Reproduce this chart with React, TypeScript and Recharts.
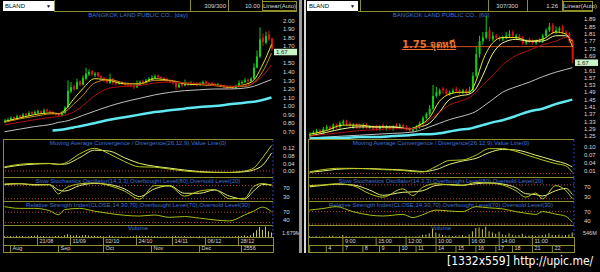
import { Bar, ComposedChart, Line, ReferenceLine, XAxis, YAxis } from "recharts";

const FONT = '"Liberation Sans", Arial, sans-serif';
const OLIVE = "#8e8e2a";
const BLUE_TXT = "#3f72d8";
const TICK = "#d8d8d8";

// ---------- left: BLAND daily ----------
const leftOpen = [0.82,0.83,0.84,0.87,0.85,0.89,0.87,0.91,0.89,0.93,0.91,0.92,0.94,0.92,0.96,0.94,0.93,0.92,0.91,0.89,0.92,0.99,1.17,1.23,1.20,1.29,1.25,1.32,1.37,1.41,1.36,1.39,1.35,1.33,1.31,1.27,1.32,1.28,1.26,1.28,1.26,1.25,1.24,1.24,1.22,1.25,1.29,1.27,1.30,1.31,1.33,1.36,1.34,1.33,1.31,1.30,1.28,1.27,1.22,1.26,1.24,1.27,1.25,1.27,1.26,1.25,1.26,1.29,1.27,1.27,1.25,1.24,1.25,1.24,1.23,1.23,1.22,1.21,1.23,1.27,1.28,1.31,1.29,1.32,1.45,1.58,1.80,1.74,1.84,1.79];
const leftHigh = [0.85,0.86,0.88,0.88,0.90,0.90,0.92,0.92,0.94,0.94,0.95,0.96,0.95,0.97,0.97,0.95,0.94,0.93,0.92,0.94,1.00,1.30,1.28,1.25,1.32,1.30,1.36,1.45,1.43,1.42,1.40,1.40,1.36,1.34,1.32,1.38,1.33,1.29,1.29,1.29,1.27,1.27,1.26,1.25,1.30,1.30,1.31,1.32,1.34,1.36,1.37,1.37,1.35,1.34,1.33,1.31,1.29,1.28,1.27,1.27,1.31,1.28,1.29,1.28,1.28,1.28,1.30,1.30,1.28,1.28,1.27,1.27,1.26,1.25,1.24,1.24,1.23,1.25,1.30,1.30,1.33,1.32,1.34,1.50,1.65,1.92,1.85,1.87,1.88,1.80];
const leftLow = [0.80,0.82,0.83,0.84,0.84,0.86,0.86,0.88,0.88,0.90,0.90,0.91,0.91,0.91,0.93,0.92,0.90,0.89,0.88,0.88,0.91,0.98,1.15,1.18,1.19,1.23,1.24,1.30,1.35,1.35,1.34,1.33,1.31,1.28,1.26,1.26,1.25,1.24,1.25,1.25,1.23,1.23,1.22,1.20,1.21,1.24,1.25,1.26,1.29,1.30,1.32,1.32,1.31,1.29,1.28,1.27,1.25,1.19,1.21,1.22,1.23,1.23,1.24,1.24,1.23,1.24,1.25,1.26,1.25,1.24,1.23,1.23,1.22,1.21,1.20,1.21,1.20,1.20,1.22,1.25,1.27,1.27,1.28,1.31,1.44,1.56,1.70,1.72,1.76,1.65];
const leftClose = [0.83,0.84,0.86,0.85,0.88,0.87,0.90,0.89,0.92,0.91,0.93,0.94,0.92,0.95,0.94,0.93,0.91,0.90,0.89,0.92,0.98,1.18,1.22,1.20,1.28,1.25,1.33,1.38,1.40,1.37,1.38,1.35,1.33,1.30,1.28,1.32,1.27,1.26,1.27,1.26,1.25,1.24,1.23,1.22,1.25,1.28,1.27,1.30,1.32,1.33,1.35,1.34,1.33,1.31,1.30,1.28,1.27,1.22,1.25,1.24,1.26,1.25,1.27,1.26,1.25,1.26,1.28,1.27,1.26,1.25,1.24,1.25,1.24,1.23,1.22,1.22,1.21,1.23,1.27,1.28,1.30,1.29,1.32,1.45,1.58,1.78,1.75,1.82,1.78,1.67];
const leftVolume = [0.4,0.3,0.5,0.3,0.6,0.4,0.5,0.3,0.4,0.5,0.6,0.8,0.4,0.5,0.3,0.4,0.3,0.5,0.6,0.4,0.9,1.3,1.0,0.6,0.9,0.5,0.8,1.0,0.7,0.5,0.6,0.4,0.5,0.4,0.3,0.7,0.4,0.3,0.3,0.4,0.3,0.3,0.4,0.5,0.7,0.6,0.4,0.5,0.6,0.4,0.5,0.4,0.3,0.3,0.4,0.3,0.4,0.6,0.4,0.3,0.5,0.3,0.4,0.3,0.3,0.4,0.3,0.3,0.3,0.2,0.3,0.3,0.2,0.3,0.3,0.2,0.3,0.4,0.6,0.5,0.7,0.5,0.9,2.0,3.2,4.8,3.5,5.0,2.8,2.2];
const leftMaIdx = [0,5,10,16,18,20,23,26,30,35,40,45,50,55,60,65,70,75,80,83,86,89];
const leftMaFast = [0.82,0.86,0.90,0.92,0.91,0.95,1.08,1.20,1.32,1.30,1.26,1.26,1.32,1.30,1.26,1.25,1.24,1.22,1.25,1.30,1.48,1.72];
const leftMaMid = [0.81,0.85,0.88,0.91,0.91,0.93,1.02,1.12,1.27,1.31,1.27,1.26,1.30,1.30,1.27,1.26,1.25,1.23,1.23,1.27,1.40,1.62];
const leftMaSlow = [0.78,0.81,0.84,0.87,0.88,0.89,0.93,1.00,1.12,1.21,1.23,1.24,1.27,1.28,1.27,1.26,1.24,1.23,1.24,1.27,1.35,1.48];
const leftMaLong = [0.70,0.73,0.76,0.79,0.81,0.82,0.85,0.89,0.94,1.00,1.05,1.09,1.13,1.16,1.18,1.19,1.20,1.20,1.21,1.23,1.27,1.31];
const leftMa200 = [null,null,null,0.715,0.72,0.73,0.75,0.77,0.80,0.84,0.87,0.90,0.93,0.95,0.97,0.99,1.00,1.02,1.04,1.05,1.07,1.10];
const leftIndIdx = [0,5,10,15,18,20,25,30,35,40,45,50,55,60,65,70,75,80,83,86,89];
const leftMacd = [0.022,0.035,0.04,0.04,0.033,0.04,0.09,0.12,0.09,0.05,0.022,0.02,0.01,0.0,-0.006,-0.008,-0.008,0.0,0.015,0.07,0.135];
const leftMacdSig = [0.018,0.03,0.036,0.039,0.036,0.036,0.07,0.11,0.105,0.07,0.04,0.025,0.015,0.005,-0.003,-0.007,-0.008,-0.004,0.005,0.03,0.095];
const leftStochK = [88,90,82,85,42,65,88,92,80,55,18,80,78,32,55,62,20,22,75,90,80];
const leftStochD = [85,88,85,84,60,55,80,90,85,65,30,65,80,45,45,60,32,18,55,85,84];
const leftRsi = [92,85,85,76,60,80,85,74,65,58,55,59,50,53,47,40,36,59,74,90,72];
const leftPriceTicks = [0.7,0.8,0.9,1.0,1.1,1.2,1.3,1.4,1.5,1.7,1.8,1.9,2.0];
const leftMacdTicks = [0, 0.04, 0.08, 0.12];
const leftDateIdx = [11,22,33,44,56,67,78];
const leftDateLabels = ["21/08","11/09","02/10","24/10","14/11","06/12","28/12"];
const leftMonthIdx = [2,18,33,49,65,79];
const leftMonthLabels = ["Aug","Sep","Oct","Nov","Dec","2556"];

// ---------- right: BLAND 60 min ----------
const rightOpen = [1.25,1.26,1.27,1.28,1.27,1.29,1.30,1.29,1.31,1.30,1.32,1.33,1.32,1.30,1.31,1.31,1.30,1.31,1.30,1.30,1.30,1.29,1.31,1.29,1.30,1.29,1.31,1.30,1.31,1.30,1.29,1.28,1.29,1.30,1.32,1.35,1.37,1.40,1.47,1.48,1.51,1.50,1.48,1.49,1.51,1.50,1.49,1.50,1.49,1.50,1.58,1.70,1.77,1.79,1.83,1.78,1.80,1.79,1.78,1.79,1.80,1.82,1.79,1.80,1.79,1.76,1.78,1.77,1.76,1.78,1.77,1.80,1.83,1.86,1.82,1.83,1.85,1.82,1.81,1.77];
const rightHigh = [1.27,1.28,1.29,1.29,1.30,1.31,1.31,1.32,1.32,1.33,1.34,1.34,1.33,1.32,1.32,1.32,1.32,1.32,1.31,1.31,1.31,1.31,1.32,1.31,1.31,1.31,1.32,1.32,1.32,1.31,1.30,1.30,1.31,1.33,1.36,1.38,1.42,1.53,1.52,1.51,1.52,1.51,1.50,1.51,1.52,1.51,1.51,1.51,1.52,1.60,1.74,1.80,1.82,1.91,1.85,1.82,1.81,1.80,1.80,1.82,1.83,1.83,1.81,1.81,1.80,1.78,1.79,1.78,1.78,1.79,1.81,1.84,1.87,1.87,1.85,1.85,1.86,1.83,1.82,1.78];
const rightLow = [1.24,1.25,1.26,1.26,1.26,1.28,1.28,1.28,1.29,1.29,1.31,1.31,1.30,1.29,1.29,1.29,1.29,1.29,1.29,1.28,1.28,1.28,1.29,1.28,1.28,1.28,1.29,1.29,1.29,1.28,1.27,1.27,1.28,1.29,1.31,1.34,1.36,1.39,1.46,1.47,1.48,1.47,1.47,1.48,1.49,1.48,1.48,1.48,1.48,1.49,1.57,1.68,1.75,1.78,1.77,1.77,1.78,1.77,1.77,1.78,1.79,1.79,1.78,1.78,1.75,1.75,1.76,1.75,1.75,1.76,1.76,1.79,1.82,1.81,1.81,1.82,1.81,1.80,1.76,1.65];
const rightClose = [1.26,1.27,1.28,1.27,1.29,1.30,1.29,1.31,1.30,1.32,1.33,1.32,1.31,1.31,1.30,1.30,1.31,1.30,1.30,1.29,1.29,1.30,1.30,1.30,1.29,1.30,1.30,1.31,1.30,1.29,1.28,1.29,1.30,1.32,1.35,1.37,1.40,1.47,1.49,1.50,1.50,1.48,1.49,1.50,1.50,1.49,1.50,1.49,1.50,1.58,1.70,1.77,1.79,1.82,1.78,1.80,1.79,1.78,1.79,1.80,1.81,1.80,1.80,1.79,1.76,1.77,1.77,1.76,1.77,1.77,1.80,1.83,1.85,1.82,1.83,1.84,1.82,1.81,1.77,1.67];
const rightVolume = [120,80,150,60,100,90,200,250,80,100,300,150,90,80,120,60,70,100,80,60,90,70,100,60,80,90,120,100,80,150,100,80,120,200,350,400,600,1300,700,500,300,200,250,150,200,250,300,200,400,900,1400,1500,1200,1600,900,700,500,800,400,300,600,350,250,300,500,200,250,300,200,250,300,400,600,350,300,400,250,300,400,700];
const rightMaIdx = [0,5,10,15,20,25,30,33,36,39,42,45,48,50,52,55,58,62,66,70,74,77,79];
const rightMaFast = [1.26,1.28,1.31,1.31,1.30,1.30,1.29,1.31,1.35,1.44,1.48,1.49,1.49,1.55,1.66,1.76,1.79,1.79,1.77,1.78,1.82,1.81,1.74];
const rightMaMid = [1.25,1.27,1.29,1.30,1.30,1.30,1.29,1.30,1.32,1.38,1.45,1.47,1.48,1.51,1.58,1.70,1.76,1.78,1.77,1.77,1.80,1.80,1.77];
const rightMaSlow = [1.25,1.26,1.27,1.28,1.285,1.29,1.29,1.30,1.34,1.38,1.42,1.44,1.46,1.49,1.53,1.58,1.64,1.69,1.72,1.75,1.77,1.79,1.78];
const rightMaLong = [1.24,1.245,1.25,1.255,1.26,1.265,1.27,1.28,1.30,1.32,1.34,1.355,1.37,1.385,1.41,1.45,1.49,1.52,1.545,1.575,1.60,1.615,1.625];
const rightMa200 = [1.235,1.24,1.24,1.245,1.245,1.25,1.255,1.26,1.26,1.265,1.275,1.285,1.29,1.30,1.31,1.325,1.337,1.36,1.385,1.40,1.425,1.44,1.45];
const rightIndIdx = [0,4,8,13,18,22,28,31,34,38,42,46,50,54,58,62,65,68,70,74,77,79];
const rightMacd = [0.007,0.015,0.02,0.02,0.018,0.015,0.012,0.008,0.006,0.027,0.05,0.052,0.07,0.095,0.095,0.085,0.072,0.06,0.052,0.038,0.03,0.005];
const rightMacdSig = [0.005,0.01,0.016,0.019,0.019,0.017,0.014,0.011,0.008,0.015,0.035,0.048,0.058,0.08,0.092,0.09,0.082,0.07,0.063,0.048,0.038,0.025];
const rightStochK = [77,80,85,77,42,27,63,34,70,85,80,77,91,88,80,55,27,45,20,77,56,20];
const rightStochD = [72,78,83,80,58,35,48,50,55,78,82,79,85,89,84,68,42,38,32,55,65,38];
const rightRsi = [75,80,86,70,59,56,61,51,60,75,72,70,86,82,79,70,65,61,70,62,55,36];
const rightPriceTicks = [1.25,1.29,1.33,1.37,1.41,1.45,1.49,1.53,1.57,1.61,1.69,1.73,1.77,1.81,1.85,1.89];
const rightMacdTicks = [0.01, 0.04, 0.07, 0.10];
const rightTimeIdx = [10,20,29,38,48,57,67];
const rightTimeLabels = ["9:00","15:00","12:00","10:00","16:00","14:00","11:00"];
const rightDayIdx = [0,5,10,16,21,27,32,38,44,50,56,61,67,73];
const rightDayLabels = ["","4","7","8","9","10","11","14","15","16","17","18","21","22"];
const rightNote = "1.75 จุดหนี";
const rightNoteLevel = 1.74;

const lastPrice = 1.67;

function buildRows(o: number[], h: number[], l: number[], c: number[], v: number[], maIdx: number[], mas: (number | null)[][]) {
  return c.map((_, i) => {
    const row: any = { i, o: o[i], h: h[i], l: l[i], c: c[i], v: v[i] };
    const k = maIdx.indexOf(i);
    mas.forEach((m, j) => (row["m" + j] = k >= 0 ? m[k] : null));
    return row;
  });
}

function buildInd(idx: number[], macd: number[], sig: number[], k: number[], d: number[], rsi: number[]) {
  return idx.map((x, n) => ({ x, macd: macd[n], sig: sig[n], k: k[n], d: d[n], rsi: rsi[n] }));
}

const Candle = (p: any) => {
  const { x, y, width, height, payload } = p;
  const top = Math.min(y, y + height);
  const hh = Math.abs(height);
  const { o, h, l, c } = payload;
  const ppu = hh / (h - l);
  const up = c >= o;
  const col = up ? "#10d010" : "#e01010";
  const bTop = top + (h - Math.max(o, c)) * ppu;
  const bBot = top + (h - Math.min(o, c)) * ppu;
  const cx = x + width / 2;
  return (
    <g>
      <line x1={cx} x2={cx} y1={top} y2={top + hh} stroke={col} strokeWidth={1} />
      <rect x={x} y={bTop} width={width} height={Math.max(1, bBot - bTop)} fill={col} />
    </g>
  );
};

const rowTick = (idx: number[], labels: string[], rowH: number) => (p: any) => {
  const k = idx.indexOf(p.payload.value);
  if (k < 0) return <g />;
  return (
    <g>
      <line x1={p.x} x2={p.x} y1={p.y} y2={p.y + rowH} stroke={OLIVE} />
      <text x={p.x + 2} y={p.y + rowH - 2} fill={TICK} fontSize={5.5} fontFamily={FONT}>{labels[k]}</text>
    </g>
  );
};

const MA_STYLE = [
  { c: "#e8e820", w: 1 },
  { c: "#c88a10", w: 1 },
  { c: "#b01010", w: 1 },
  { c: "#c0c0c0", w: 1 },
  { c: "#60e8f0", w: 2.5 },
];

function Panel(cfg: any) {
  const { left, width, plotL, plotR, rows, ind, n } = cfg;
  const axisW = width - plotR;
  const m = { top: 0, right: 0, bottom: 0, left: plotL };
  const yTick = { fill: TICK, fontSize: 6, fontFamily: FONT };
  const dashAxis = { stroke: "#2a3cc0", strokeDasharray: "2 2" };
  const xNum = <XAxis type="number" dataKey="x" domain={[-0.5, n - 0.5]} hide />;
  const hline = (y: number) => (
    <div style={{ position: "absolute", left: plotL, top: y, width: plotR - plotL, height: 1, background: OLIVE }} />
  );
  const title = (y: number, t: string) => (
    <div style={{ position: "absolute", left: plotL, width: plotR - plotL, top: y, textAlign: "center", color: BLUE_TXT, fontSize: 6, lineHeight: "7px", whiteSpace: "nowrap" }}>{t}</div>
  );
  const refDot = (y: number) => <ReferenceLine y={y} stroke="#c04040" strokeDasharray="1 2" />;
  const vline = (x: number, top: number, h: number) => (
    <div style={{ position: "absolute", left: x, top, width: 1, height: h, background: OLIVE }} />
  );

  return (
    <div style={{ position: "absolute", left, top: 0, width, height: 253, fontFamily: FONT }}>
      {/* header */}
      <div style={{ position: "absolute", left: cfg.boxL, top: 1, width: cfg.boxR - cfg.boxL, height: 10, background: "#fff", color: "#000", fontSize: 6, lineHeight: "10px", paddingLeft: 2, boxSizing: "border-box" }}>
        BLAND<span style={{ position: "absolute", right: 3, fontSize: 5 }}>▼</span>
      </div>
      <div style={{ position: "absolute", left: cfg.boxR, top: 11, width: cfg.linR - cfg.boxR, height: 1, background: OLIVE }} />
      {cfg.seps.map((x: number) => vline(x, 0, 11))}
      <div style={{ position: "absolute", left: cfg.countR - 40, width: 40, top: 2, textAlign: "right", color: TICK, fontSize: 6, lineHeight: "8px" }}>{cfg.count}</div>
      <div style={{ position: "absolute", left: cfg.valR - 30, width: 30, top: 2, textAlign: "right", color: TICK, fontSize: 6, lineHeight: "8px" }}>{cfg.val}</div>
      <div style={{ position: "absolute", left: cfg.linL, top: 1, width: cfg.linR - cfg.linL, height: 10, border: `1px solid ${OLIVE}`, boxSizing: "border-box", color: TICK, fontSize: 6, lineHeight: "8px", textAlign: "center" }}>Linear(Auto)</div>

      {title(12, cfg.title)}

      {/* price */}
      <div style={{ position: "absolute", left: 0, top: 12 }}>
        <ComposedChart width={width} height={127} data={rows} margin={m}>
          <XAxis dataKey="i" type="category" hide />
          <YAxis orientation="right" width={axisW} type="number" domain={cfg.priceDomain} allowDataOverflow ticks={cfg.priceTicks} interval={0} tick={yTick} tickLine={false} axisLine={false} tickMargin={4} tickFormatter={(v: number) => v.toFixed(2)} />
          {cfg.note && <ReferenceLine segment={[{ x: cfg.noteFrom, y: cfg.noteLevel }, { x: n - 1, y: cfg.noteLevel }]} stroke="#d05020" strokeWidth={1} />}
          <Bar dataKey={(d: any) => [d.l, d.h]} shape={Candle} barSize={2} isAnimationActive={false} />
          {cfg.maStyle.map((s: any, j: number) => (
            <Line key={j} dataKey={"m" + j} type="monotone" stroke={s.c} strokeWidth={s.w} dot={false} connectNulls isAnimationActive={false} />
          ))}
          <ReferenceLine y={lastPrice} stroke="none" label={(p: any) => (
            <g>
              <rect x={p.viewBox.x + p.viewBox.width + 1} y={p.viewBox.y} width={23} height={6.5} fill="#c8f4c8" />
              <text x={p.viewBox.x + p.viewBox.width + 3} y={p.viewBox.y + 5.5} fontSize={6} fill="#222" fontFamily={FONT}>{lastPrice.toFixed(2)}</text>
            </g>
          )} />
        </ComposedChart>
      </div>
      {cfg.note && (
        <div style={{ position: "absolute", left: cfg.noteX, top: cfg.noteY, color: "#e8702a", fontSize: 10, fontWeight: "bold", textDecoration: "underline", whiteSpace: "nowrap", fontFamily: '"DejaVu Sans", "Noto Sans", sans-serif' }}>{cfg.note}</div>
      )}

      {hline(139)}
      {title(140, "Moving Average Convergence / Divergence(26,12,9),Value Line(0)")}
      <div style={{ position: "absolute", left: 0, top: 140 }}>
        <ComposedChart width={width} height={37} data={ind} margin={m}>
          {xNum}
          <YAxis orientation="right" width={axisW} type="number" domain={cfg.macdDomain} allowDataOverflow ticks={cfg.macdTicks} interval={0} tick={yTick} tickLine={false} axisLine={dashAxis} tickMargin={4} tickFormatter={(v: number) => v.toFixed(2)} />
          {refDot(0)}
          <Line dataKey="sig" type="monotone" stroke="#e6f07a" strokeWidth={1} dot={false} isAnimationActive={false} />
          <Line dataKey="macd" type="monotone" stroke="#b8c818" strokeWidth={1} dot={false} isAnimationActive={false} />
        </ComposedChart>
      </div>

      {hline(177)}
      {title(178, "Slow Stochastics Oscillator(14,3,3),Overbought Level(80),Oversold Level(20)")}
      <div style={{ position: "absolute", left: 0, top: 178 }}>
        <ComposedChart width={width} height={24} data={ind} margin={m}>
          {xNum}
          <YAxis orientation="right" width={axisW} type="number" domain={cfg.stochDomain} allowDataOverflow ticks={[30, 70]} interval={0} tick={yTick} tickLine={false} axisLine={dashAxis} tickMargin={4} />
          {refDot(80)}
          {refDot(20)}
          <Line dataKey="d" type="monotone" stroke="#e6f07a" strokeWidth={1} dot={false} isAnimationActive={false} />
          <Line dataKey="k" type="monotone" stroke="#b8c818" strokeWidth={1} dot={false} isAnimationActive={false} />
        </ComposedChart>
      </div>

      {hline(201)}
      {title(202, "Relative Strength Index(CLOSE,14,30,70),Overbought Level(70),Oversold Level(30)")}
      <div style={{ position: "absolute", left: 0, top: 202 }}>
        <ComposedChart width={width} height={23} data={ind} margin={m}>
          {xNum}
          <YAxis orientation="right" width={axisW} type="number" domain={cfg.rsiDomain} allowDataOverflow ticks={[40, 70]} interval={0} tick={yTick} tickLine={false} axisLine={dashAxis} tickMargin={4} />
          {refDot(70)}
          {refDot(30)}
          <Line dataKey="rsi" type="monotone" stroke="#a8c010" strokeWidth={1} dot={false} isAnimationActive={false} />
        </ComposedChart>
      </div>

      {hline(225)}
      {title(225, "Volume")}
      <div style={{ position: "absolute", left: 0, top: 225 }}>
        <ComposedChart width={width} height={27} data={rows} margin={m}>
          <XAxis xAxisId="d" dataKey="i" type="category" height={8} interval={0} tickSize={0} tickMargin={0} axisLine={false} tickLine={false} tick={rowTick(cfg.row1Idx, cfg.row1Labels, 8)} />
          <XAxis xAxisId="m" dataKey="i" type="category" height={7} interval={0} tickSize={0} tickMargin={0} axisLine={false} tickLine={false} tick={rowTick(cfg.row2Idx, cfg.row2Labels, 7)} />
          <YAxis orientation="right" width={axisW} type="number" domain={[0, cfg.volMax]} allowDataOverflow ticks={[cfg.volTick]} interval={0} tick={{ ...yTick, fontSize: 5.5 }} tickLine={false} axisLine={dashAxis} tickMargin={3} tickFormatter={() => cfg.volLabel} />
          <Bar xAxisId="d" dataKey="v" fill="#c8c838" barSize={1} isAnimationActive={false} />
        </ComposedChart>
      </div>
      {hline(237)}
      {hline(245)}
      {hline(252)}
      {vline(plotL, 139, 114)}
      {vline(plotR, 237, 16)}
    </div>
  );
}

const leftRows = buildRows(leftOpen, leftHigh, leftLow, leftClose, leftVolume, leftMaIdx, [leftMaFast, leftMaMid, leftMaSlow, leftMaLong, leftMa200]);
const leftInd = buildInd(leftIndIdx, leftMacd, leftMacdSig, leftStochK, leftStochD, leftRsi);
const rightRows = buildRows(rightOpen, rightHigh, rightLow, rightClose, rightVolume, rightMaIdx, [rightMaFast, rightMaMid, rightMaSlow, rightMaLong, rightMa200]);
const rightInd = buildInd(rightIndIdx, rightMacd, rightMacdSig, rightStochK, rightStochD, rightRsi);

export default function App() {
  return (
    <div style={{ position: "fixed", left: 0, top: 0, width: 600, height: 272, background: "#000", overflow: "hidden" }}>
      <Panel
        left={0} width={299} plotL={3} plotR={273} rows={leftRows} ind={leftInd} n={leftClose.length}
        boxL={3} boxR={54} seps={[54, 190, 228, 262]} count="309/300" countR={226} val="10.00" valR={260} linL={262} linR={297}
        title="BANGKOK LAND PUBLIC CO.. [day]"
        priceDomain={[0.615, 2.1]} priceTicks={leftPriceTicks} maStyle={MA_STYLE}
        macdDomain={[-0.032, 0.164]} macdTicks={leftMacdTicks} stochDomain={[5, 115]} rsiDomain={[20, 110]}
        volMax={5.76} volTick={1.679} volLabel="1.679M"
        row1Idx={leftDateIdx} row1Labels={leftDateLabels} row2Idx={leftMonthIdx} row2Labels={leftMonthLabels}
      />
      <Panel
        left={306} width={294} plotL={2} plotR={268} rows={rightRows} ind={rightInd} n={rightClose.length}
        boxL={1} boxR={52} seps={[54, 182, 221, 256]} count="307/300" countR={212} val="1.26" valR={252} linL={257} linR={287}
        title="BANGKOK LAND PUBLIC CO.. [60]"
        priceDomain={[1.234, 1.93]} priceTicks={rightPriceTicks}
        maStyle={[{ c: "#e8e820", w: 1 }, { c: "#f4f490", w: 1 }, { c: "#b01010", w: 1 }, { c: "#c0c0c0", w: 1 }, { c: "#60e8f0", w: 2.5 }]}
        macdDomain={[-0.013, 0.128]} macdTicks={rightMacdTicks} stochDomain={[6, 110]} rsiDomain={[27, 101]}
        volMax={1872} volTick={546} volLabel="546M"
        row1Idx={rightTimeIdx} row1Labels={rightTimeLabels} row2Idx={rightDayIdx} row2Labels={rightDayLabels}
        note={rightNote} noteLevel={rightNoteLevel} noteFrom={29} noteX={96} noteY={37}
      />
      {/* panel divider */}
      <div style={{ position: "absolute", left: 299, top: 0, width: 3, height: 253, background: "#9a9a9a" }} />
      <div style={{ position: "absolute", left: 304, top: 0, width: 2, height: 253, background: "#d8d8d8" }} />
      <div style={{ position: "absolute", left: 447, top: 254, color: "#fff", fontSize: 12, fontFamily: '"DejaVu Sans Condensed", "DejaVu Sans", sans-serif', whiteSpace: "nowrap" }}>[1332x559] http://upic.me/</div>
    </div>
  );
}
